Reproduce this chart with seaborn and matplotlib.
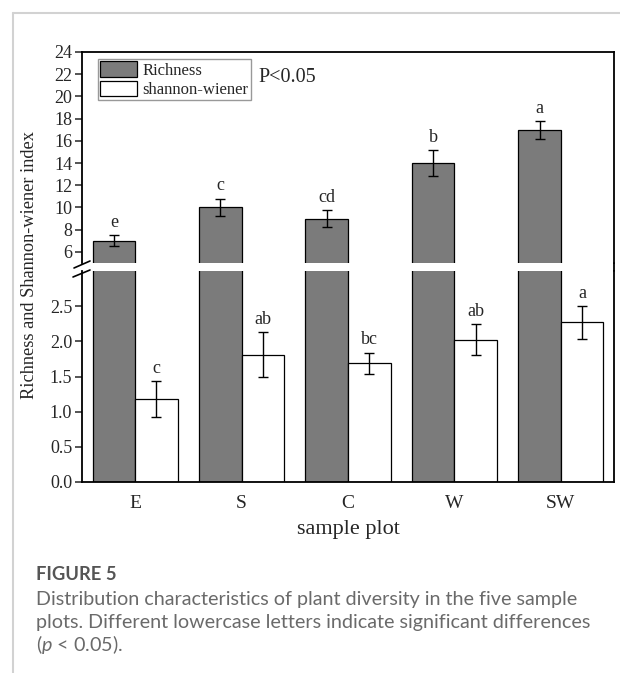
import numpy as np
import pandas as pd
import matplotlib
matplotlib.use("Agg")
import matplotlib.pyplot as plt
from matplotlib.lines import Line2D
from matplotlib.patches import Patch
import seaborn as sns

# ---- data ----
plots = ["E", "S", "C", "W", "SW"]
richness = [7.0, 10.0, 9.0, 14.0, 17.0]
richness_err = [0.5, 0.8, 0.8, 1.2, 0.8]
richness_letters = ["e", "c", "cd", "b", "a"]
shannon = [1.18, 1.81, 1.69, 2.02, 2.27]
shannon_err = [0.25, 0.32, 0.15, 0.22, 0.23]
shannon_letters = ["c", "ab", "bc", "ab", "a"]
series_names = ["Richness", "shannon-wiener"]
upper_ticks = [6, 8, 10, 12, 14, 16, 18, 20, 22, 24]
lower_ticks = [0.0, 0.5, 1.0, 1.5, 2.0, 2.5]

df = pd.DataFrame({
    "plot": plots * 2,
    "value": richness + shannon,
    "index": [series_names[0]] * 5 + [series_names[1]] * 5,
})

sns.set_style("ticks")
plt.rcParams["font.family"] = ["Liberation Serif", "DejaVu Serif"]
plt.rcParams["mathtext.fontset"] = "custom"
plt.rcParams["mathtext.it"] = "Lato:italic"
plt.rcParams["mathtext.rm"] = "Lato"

W, H = 620, 673
fig = plt.figure(figsize=(W / 100, H / 100), dpi=100)

def fx(px):
    return px / W

def fy(py):
    return 1 - py / H

L, R = 82, 614
top_t, top_b = 52, 263
low_t, low_b = 271, 482
ax_up = fig.add_axes([fx(L), fy(top_b), fx(R) - fx(L), fy(top_t) - fy(top_b)])
ax_lo = fig.add_axes([fx(L), fy(low_b), fx(R) - fx(L), fy(low_t) - fy(low_b)])

dark = "#7b7b7b"
palette = {series_names[0]: dark, series_names[1]: "white"}
for ax in (ax_up, ax_lo):
    sns.barplot(data=df, x="plot", y="value", hue="index", order=plots,
                hue_order=series_names, palette=palette, saturation=1,
                edgecolor="black", linewidth=0.9, width=0.8, errorbar=None,
                legend=False, ax=ax)
    ax.set_xlim(-0.5, len(plots) - 0.5)
    ax.set_ylabel("")
    ax.set_xlabel("")
    for s in ax.spines.values():
        s.set_linewidth(1.3)
        s.set_color("black")
    ax.tick_params(axis="y", direction="out", length=5, width=1.1,
                   labelsize=13, pad=2)

ax_up.set_ylim(5, 24)
ax_up.set_yticks(upper_ticks)
ax_up.set_yticklabels([str(t) for t in upper_ticks])
ax_up.spines["bottom"].set_visible(False)
ax_up.tick_params(axis="x", length=0, labelbottom=False)

ax_lo.set_ylim(0, 3)
ax_lo.set_yticks(lower_ticks)
ax_lo.set_yticklabels([f"{t:.1f}" for t in lower_ticks])
ax_lo.spines["top"].set_visible(False)
ax_lo.tick_params(axis="x", length=0, labelsize=14, pad=9)
ax_lo.set_xlabel("sample plot", fontsize=16, labelpad=6)

# error bars + letters
xpos = np.arange(len(plots))
for ax in (ax_up, ax_lo):
    ax.errorbar(xpos - 0.2, richness, yerr=richness_err, fmt="none",
                ecolor="black", elinewidth=1, capsize=3.5, capthick=1)
    ax.errorbar(xpos + 0.2, shannon, yerr=shannon_err, fmt="none",
                ecolor="black", elinewidth=1, capsize=3.5, capthick=1)
for i in range(len(plots)):
    ax_up.annotate(richness_letters[i], (xpos[i] - 0.2, richness[i] + richness_err[i]),
                   xytext=(0, 3), textcoords="offset points", ha="center",
                   va="bottom", fontsize=13)
    ax_lo.annotate(shannon_letters[i], (xpos[i] + 0.2, shannon[i] + shannon_err[i]),
                   xytext=(0, 3), textcoords="offset points", ha="center",
                   va="bottom", fontsize=13)

# legend
handles = [Patch(facecolor=palette[n], edgecolor="black", linewidth=0.9) for n in series_names]
leg = ax_up.legend(handles, series_names, loc="upper left",
                   bbox_to_anchor=(0.03, 0.967), borderaxespad=0,
                   fontsize=12, handlelength=2.2, handleheight=1.05,
                   labelspacing=0.1, handletextpad=0.3, borderpad=0.15,
                   fancybox=False, frameon=True)
leg.get_frame().set_edgecolor("#808080")
leg.get_frame().set_linewidth(1.0)

ax_up.text(0.331, 0.88, "P<0.05", transform=ax_up.transAxes, fontsize=14.5,
           va="center", ha="left")

# right spine continuity across the break
fig.add_artist(Line2D([fx(R), fx(R)], [fy(top_b), fy(low_t)], color="black",
                      lw=1.3, transform=fig.transFigure))
# break marks on left spine
for (x1, y1, x2, y2) in [(74, 268, 90, 261), (73, 277, 90, 270)]:
    fig.add_artist(Line2D([fx(x1), fx(x2)], [fy(y1), fy(y2)], color="black",
                          lw=1.2, transform=fig.transFigure))

# y label
fig.text(fx(30), fy(265), "Richness and Shannon-wiener index", rotation=90,
         ha="center", va="center", fontsize=13.2)

# page frame lines
fig.add_artist(Line2D([fx(13), fx(13)], [fy(13), 0], color="#d2d2d2", lw=1.5,
                      transform=fig.transFigure))
fig.add_artist(Line2D([fx(13), 1], [fy(13), fy(13)], color="#d2d2d2", lw=1.5,
                      transform=fig.transFigure))

# caption
cap_font = ["Lato", "DejaVu Sans"]
fig.text(fx(36), fy(574), "FIGURE 5", family=cap_font, fontsize=13.2,
         color="#555555", weight="bold", va="center", ha="left")
cap_lines = [
    "Distribution characteristics of plant diversity in the five sample",
    "plots. Different lowercase letters indicate significant differences",
    r"($\mathit{p}$ < 0.05).",
]
for k, line in enumerate(cap_lines):
    fig.text(fx(36), fy(600 + 22.5 * k), line, family=cap_font, fontsize=14.2,
             color="#6a6a6a", va="center", ha="left")

fig.savefig("out.png", dpi=100)
